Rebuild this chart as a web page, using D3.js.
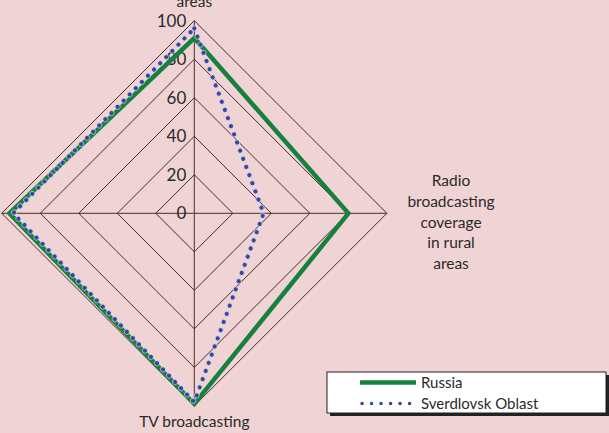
<!DOCTYPE html>
<html>
<head>
<meta charset="utf-8">
<script src="https://cdn.jsdelivr.net/npm/d3@7"></script>
<style>
  body { margin: 0; background: #f0d4d5; }
  svg { display: block; font-family: Lato, "Open Sans", sans-serif; }
</style>
</head>
<body>
<script>
// axes clockwise from top (only the parts of the labels that show in the picture)
var axisLabels = [
    ["areas"],
    ["Radio", "broadcasting", "coverage", "in rural", "areas"],
    ["TV broadcasting"],
    []
];
var ticks = [0, 20, 40, 60, 80, 100];
var seriesNames = ["Russia", "Sverdlovsk Oblast"];
var russia = [91, 80, 99, 96];
var sverdlovsk = [96, 36, 98, 94];

var width = 609, height = 433;
var cx = 194.3, cy = 213.3, R = 192.6;

var svg = d3.select("body").append("svg").attr("width", width).attr("height", height);

var r = d3.scaleLinear().domain([0, 100]).range([0, R]);
var angle = function (i) { return i * Math.PI / 2 - Math.PI / 2; };
var pt = function (v, i) { return [cx + r(v) * Math.cos(angle(i)), cy + r(v) * Math.sin(angle(i))]; };

var g = svg.append("g");

// grid diamonds
ticks.slice(1).forEach(function (t) {
    g.append("path")
        .attr("d", d3.line()(d3.range(4).map(function (i) { return pt(t, i); })) + "Z")
        .attr("fill", "none").attr("stroke", "#4a2b2b").attr("stroke-width", 1);
});
// spokes
d3.range(4).forEach(function (i) {
    var p = pt(100, i);
    g.append("line").attr("x1", cx).attr("y1", cy).attr("x2", p[0]).attr("y2", p[1])
        .attr("stroke", "#4a2b2b").attr("stroke-width", 1);
});

// tick labels
g.selectAll(".tick").data(ticks).enter().append("text")
    .attr("x", cx - 8).attr("y", function (d) { return cy - r(d); })
    .attr("dy", "0.35em").attr("text-anchor", "end")
    .attr("font-size", 17).attr("fill", "#2a2a2a")
    .text(function (d) { return d; });

// series
var line = d3.line().curve(d3.curveLinearClosed);
g.append("path").attr("d", line(russia.map(pt)))
    .attr("fill", "none").attr("stroke", "#16803e").attr("stroke-width", 4.5)
    .attr("stroke-linejoin", "miter");
g.append("path").attr("d", line(sverdlovsk.map(pt)))
    .attr("fill", "none").attr("stroke", "#c9c8ec").attr("stroke-width", 6)
    .attr("stroke-dasharray", "0.1 8.6").attr("stroke-linecap", "round").attr("opacity", 0.7);
g.append("path").attr("d", line(sverdlovsk.map(pt)))
    .attr("fill", "none").attr("stroke", "#34489c").attr("stroke-width", 4)
    .attr("stroke-dasharray", "0.1 8.6").attr("stroke-linecap", "round");

// axis labels
function labelBlock(lines, x, y0, lh) {
    var t = svg.append("text").attr("text-anchor", "middle").attr("font-size", 15.5).attr("fill", "#2a2a2a");
    lines.forEach(function (s, k) {
        t.append("tspan").attr("x", x).attr("y", y0 + k * lh).text(s);
    });
}
labelBlock(axisLabels[0], cx, 7, 21);
labelBlock(axisLabels[1], 451, 186, 20.8);
labelBlock(axisLabels[2], cx, 427, 21);

// legend
var lg = svg.append("g").attr("transform", "translate(327,372)");
lg.append("rect").attr("x", 3).attr("y", 3).attr("width", 279).attr("height", 41).attr("fill", "#222");
lg.append("rect").attr("width", 279).attr("height", 41).attr("fill", "#fff").attr("stroke", "#222").attr("stroke-width", 1);
seriesNames.forEach(function (name, k) {
    var y = 10.5 + k * 21;
    if (k === 0) {
        lg.append("line").attr("x1", 33).attr("x2", 89).attr("y1", y).attr("y2", y)
            .attr("stroke", "#16803e").attr("stroke-width", 4.5);
    } else {
        lg.append("line").attr("x1", 35).attr("x2", 89).attr("y1", y).attr("y2", y)
            .attr("stroke", "#34489c").attr("stroke-width", 3.5)
            .attr("stroke-dasharray", "0.1 9.4").attr("stroke-linecap", "round");
    }
    lg.append("text").attr("x", 94).attr("y", y).attr("dy", "0.35em")
        .attr("font-size", 15).attr("fill", "#2a2a2a").text(name);
});
</script>
</body>
</html>
